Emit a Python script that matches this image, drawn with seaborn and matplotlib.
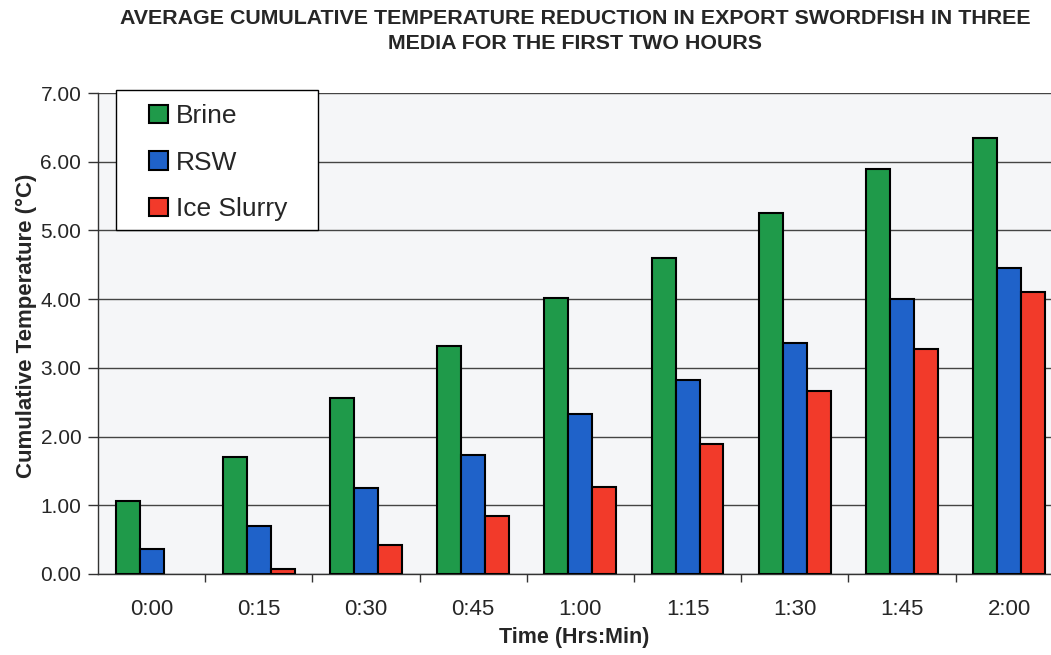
import matplotlib
matplotlib.use("Agg")
import matplotlib.pyplot as plt
import seaborn as sns
import pandas as pd
from matplotlib.patches import Rectangle
from matplotlib.ticker import FixedLocator

# Cumulative temperature reduction (°C) by elapsed time
times = ["0:00", "0:15", "0:30", "0:45", "1:00", "1:15", "1:30", "1:45", "2:00"]
brine = [1.06, 1.70, 2.56, 3.32, 4.02, 4.60, 5.25, 5.90, 6.35]
rsw = [0.36, 0.70, 1.25, 1.73, 2.33, 2.82, 3.36, 4.00, 4.45]
ice_slurry = [0.00, 0.07, 0.42, 0.84, 1.26, 1.89, 2.66, 3.27, 4.10]
media = ["Brine", "RSW", "Ice Slurry"]
colors = ["#1f9a4a", "#1f62c9", "#f23a2a"]

df = pd.DataFrame({
    "Time": times * 3,
    "Medium": [m for m in media for _ in times],
    "Value": brine + rsw + ice_slurry,
})

sns.set_theme(style="white")
plt.rcParams["font.family"] = ["Liberation Sans", "DejaVu Sans"]

fig = plt.figure(figsize=(10.51, 6.55), dpi=100)
ax = fig.add_axes([0.0932, 0.1237, 0.9068, 0.7343])
ax.set_facecolor("#f5f6f8")

sns.barplot(data=df, x="Time", y="Value", hue="Medium", order=times,
            hue_order=media, palette=colors, width=0.67, gap=0,
            edgecolor="black", linewidth=1.5, saturation=1, ax=ax,
            errorbar=None, zorder=3)

# zero-height bars leave no visible mark
for patch in ax.patches:
    if patch.get_height() == 0:
        patch.set_linewidth(0)

ax.set_ylim(0, 7)
ax.set_xlim(-0.5, 8.39)
ax.set_yticks([0, 1, 2, 3, 4, 5, 6, 7])
ax.set_yticklabels([f"{v:.2f}" for v in range(8)], fontsize=15)
ax.yaxis.grid(True, color="#444444", linewidth=1.0, zorder=0)
ax.set_axisbelow(True)

ax.tick_params(axis="x", which="major", length=0, labelsize=16, pad=18)
ax.xaxis.set_minor_locator(FixedLocator([i + 0.5 for i in range(len(times))]))
ax.tick_params(axis="x", which="minor", length=6, width=1, color="#333333",
               direction="out", bottom=True)
ax.tick_params(axis="y", length=7, width=1, color="#333333", direction="out",
               left=True, pad=5)

for side in ["top", "right"]:
    ax.spines[side].set_visible(False)
for side in ["left", "bottom"]:
    ax.spines[side].set_color("#333333")
    ax.spines[side].set_linewidth(1.0)

ax.set_xlabel("Time (Hrs:Min)", fontsize=15.5, fontweight="bold", labelpad=5)
ax.set_ylabel("Cumulative Temperature (°C)", fontsize=16, fontweight="bold")
ax.yaxis.set_label_coords(-0.064, 0.517)

# legend box, sitting over the top gridline
ax.add_patch(Rectangle((0.0189, 0.715), 0.2119, 0.2912, transform=ax.transAxes,
                       facecolor="white", edgecolor="black", linewidth=1.0,
                       clip_on=False, zorder=4))
leg = ax.legend(loc="upper left", bbox_to_anchor=(0.054, 0.977), fontsize=19,
                frameon=False, handlelength=0.7, handleheight=0.7,
                handletextpad=0.3, labelspacing=0.86, borderpad=0,
                borderaxespad=0)
leg.set_zorder(5)
for h in leg.legend_handles:
    h.set_edgecolor("black")
    h.set_linewidth(1.5)

fig.text(0.547, 0.952,
         "AVERAGE CUMULATIVE TEMPERATURE REDUCTION IN EXPORT SWORDFISH IN THREE\n"
         "MEDIA FOR THE FIRST TWO HOURS",
         ha="center", va="center", fontsize=15.4, fontweight="bold",
         linespacing=1.4)

fig.savefig("out.png", dpi=100)
